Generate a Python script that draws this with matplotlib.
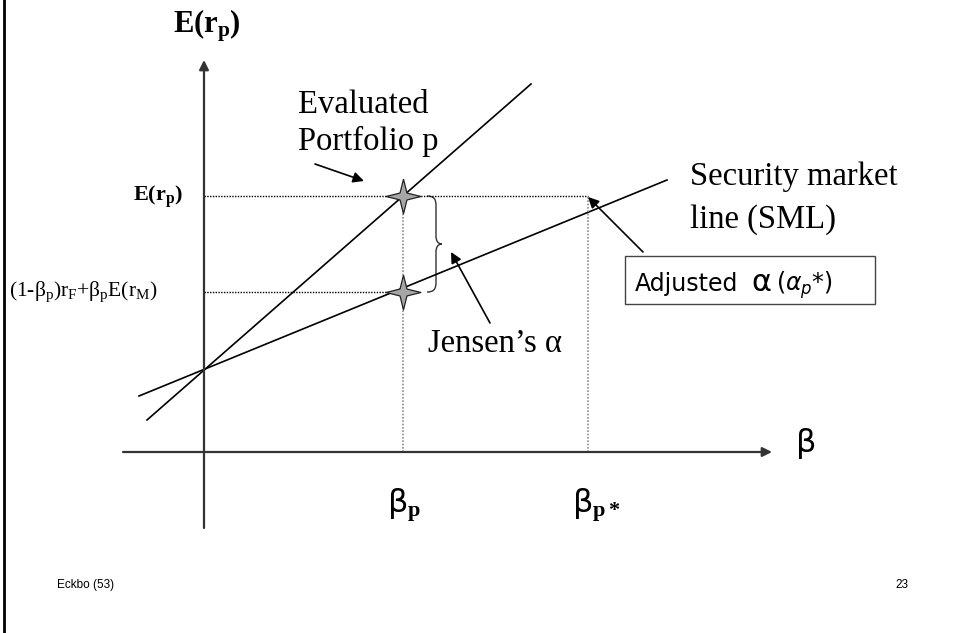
import matplotlib
matplotlib.use("Agg")
import matplotlib.pyplot as plt
from matplotlib.path import Path
from matplotlib.patches import PathPatch, Rectangle

plt.rcParams['mathtext.fontset'] = 'custom'
plt.rcParams['mathtext.rm'] = 'Liberation Serif'
plt.rcParams['mathtext.it'] = 'Liberation Serif:italic'
plt.rcParams['mathtext.bf'] = 'Liberation Serif:bold'

# ---- conceptual data (units: diagram units, origin at axes crossing) ----
rf = 82                    # risk-free intercept
beta_p = 199               # beta of evaluated portfolio
beta_p_star = 384          # beta at which SML reaches E(r_p)
E_rp = 256                 # expected return of portfolio p
E_sml_p = 160              # SML return at beta_p
sml_x = [-65, 463]
sml_y = [56, 272]
port_x = [-57, 327]
port_y = [32, 368]
x_axis = [-81, 568]
y_axis = [-76, 392]

SERIF = 'Liberation Serif'
SANS = 'DejaVu Sans'

def P(px, py):
    """figure-pixel position -> diagram coordinates"""
    return (px - 204, 452 - py)

fig = plt.figure(figsize=(9.55, 6.33), dpi=100)
ax = fig.add_axes([0, 0, 1, 1])
ax.set_xlim(-204, 955 - 204)
ax.set_ylim(452 - 633, 452)
ax.axis('off')

# left page border
ax.plot([P(4, 0)[0]] * 2, [P(0, 0)[1], P(0, 633)[1]], color='black', lw=2)

# axes with arrows
axc = '#333333'
ax.annotate('', xy=(x_axis[1], 0), xytext=(x_axis[0], 0),
            arrowprops=dict(arrowstyle='-|>', color=axc, lw=1.6, mutation_scale=14,
                            shrinkA=0, shrinkB=0))
ax.annotate('', xy=(0, y_axis[1]), xytext=(0, y_axis[0]),
            arrowprops=dict(arrowstyle='-|>', color=axc, lw=1.6, mutation_scale=14,
                            shrinkA=0, shrinkB=0))

# lines
ax.plot(port_x, port_y, color='black', lw=1.2)
ax.plot(sml_x, sml_y, color='black', lw=1.2)

# dotted guide lines
dot = (0, (1, 1))
ax.plot([0, beta_p_star], [E_rp, E_rp], color='black', lw=1, ls=dot)
ax.plot([0, beta_p], [E_sml_p, E_sml_p], color='black', lw=1, ls=dot)
ax.plot([beta_p, beta_p], [0, E_rp], color='#8c8c8c', lw=1.2, ls=dot)
ax.plot([beta_p_star, beta_p_star], [0, E_rp], color='#8c8c8c', lw=1.2, ls=dot)

# stars
star = [(0, 1), (0.2, 0.2), (1, 0), (0.2, -0.2), (0, -1), (-0.2, -0.2),
        (-1, 0), (-0.2, 0.2), (0, 1)]
ax.plot([beta_p, beta_p], [E_rp, E_sml_p], ls='none', marker=star, markersize=25,
        markerfacecolor='#a6a6a6', markeredgecolor='#222222', markeredgewidth=0.9, zorder=5)

# brace
pts = [(427, 196), (434, 196), (436, 199), (436, 206), (436, 236),
       (436, 241), (438, 244), (442, 244),
       (438, 244), (436, 247), (436, 252), (436, 282),
       (436, 289), (434, 292), (427, 292)]
codes = [Path.MOVETO, Path.CURVE4, Path.CURVE4, Path.CURVE4, Path.LINETO,
         Path.CURVE4, Path.CURVE4, Path.CURVE4,
         Path.CURVE4, Path.CURVE4, Path.CURVE4, Path.LINETO,
         Path.CURVE4, Path.CURVE4, Path.CURVE4]
ax.add_patch(PathPatch(Path([P(*p) for p in pts], codes), fill=False,
                       edgecolor='#333333', lw=1))

# pointer arrows
def pointer(tail, head):
    ax.annotate('', xy=P(*head), xytext=P(*tail),
                arrowprops=dict(arrowstyle='-|>', color='black', lw=1.2,
                                mutation_scale=16, shrinkA=0, shrinkB=0))

pointer((315, 164), (364, 181))
pointer((490, 323), (451, 252))
pointer((643, 252), (588, 197))

# texts
ax.text(*P(207, 33), 'E(r$_{\\mathbf{p}}$)', family=SERIF, weight='bold', fontsize=22,
        ha='center', va='baseline')
ax.text(*P(183, 197), 'E(r$_{\\mathbf{p}}$)', family=SERIF, weight='bold', fontsize=16,
        ha='right', va='center')
ax.text(*P(9, 292), '(1-β$_\\mathrm{p}$)r$_\\mathrm{F}$+β$_\\mathrm{p}$E(r$_\\mathrm{M}$)',
        family=SERIF, fontsize=15.5, ha='left', va='center')

ax.text(*P(298, 113), 'Evaluated', family=SERIF, fontsize=23.5, ha='left', va='baseline')
ax.text(*P(298, 150), 'Portfolio p', family=SERIF, fontsize=23.5, ha='left', va='baseline')
ax.text(*P(690, 185), 'Security market', family=SERIF, fontsize=23.5, ha='left', va='baseline')
ax.text(*P(690, 228), 'line (SML)', family=SERIF, fontsize=23.5, ha='left', va='baseline')
ax.text(*P(428, 352), 'Jensen’s α', family=SERIF, fontsize=23.5, ha='left', va='baseline')

ax.text(*P(387, 513), 'β$_{\\mathbf{p}}$', family=SANS, fontsize=23, ha='left', va='baseline')
ax.text(*P(572, 513), 'β$_{\\mathbf{p*}}$', family=SANS, fontsize=23, ha='left', va='baseline')
ax.text(*P(796, 452), 'β', family=SANS, fontsize=23, ha='left', va='baseline')

# adjusted alpha box
x0, y0 = P(625, 304)
ax.add_patch(Rectangle((x0, y0), 250, 48, fill=False, edgecolor='#444444', lw=1))
ax.text(*P(635, 291), 'Adjusted', family=SANS, fontsize=17, ha='left', va='baseline')
ax.text(*P(751, 291), 'α', family=SANS, fontsize=22, ha='left', va='baseline')
ax.text(*P(776, 291), '($\\alpha_p$*)', family=SANS, fontsize=17,
        math_fontfamily='dejavusans', ha='left', va='baseline')

# footer
ax.text(*P(57, 585), 'Eckbo (53)', family='Liberation Sans', fontsize=8.5, ha='left', va='center')
ax.text(*P(908, 585), '23', family='Liberation Sans', fontsize=8.5, ha='right', va='center')

fig.savefig('out.png', dpi=100)
